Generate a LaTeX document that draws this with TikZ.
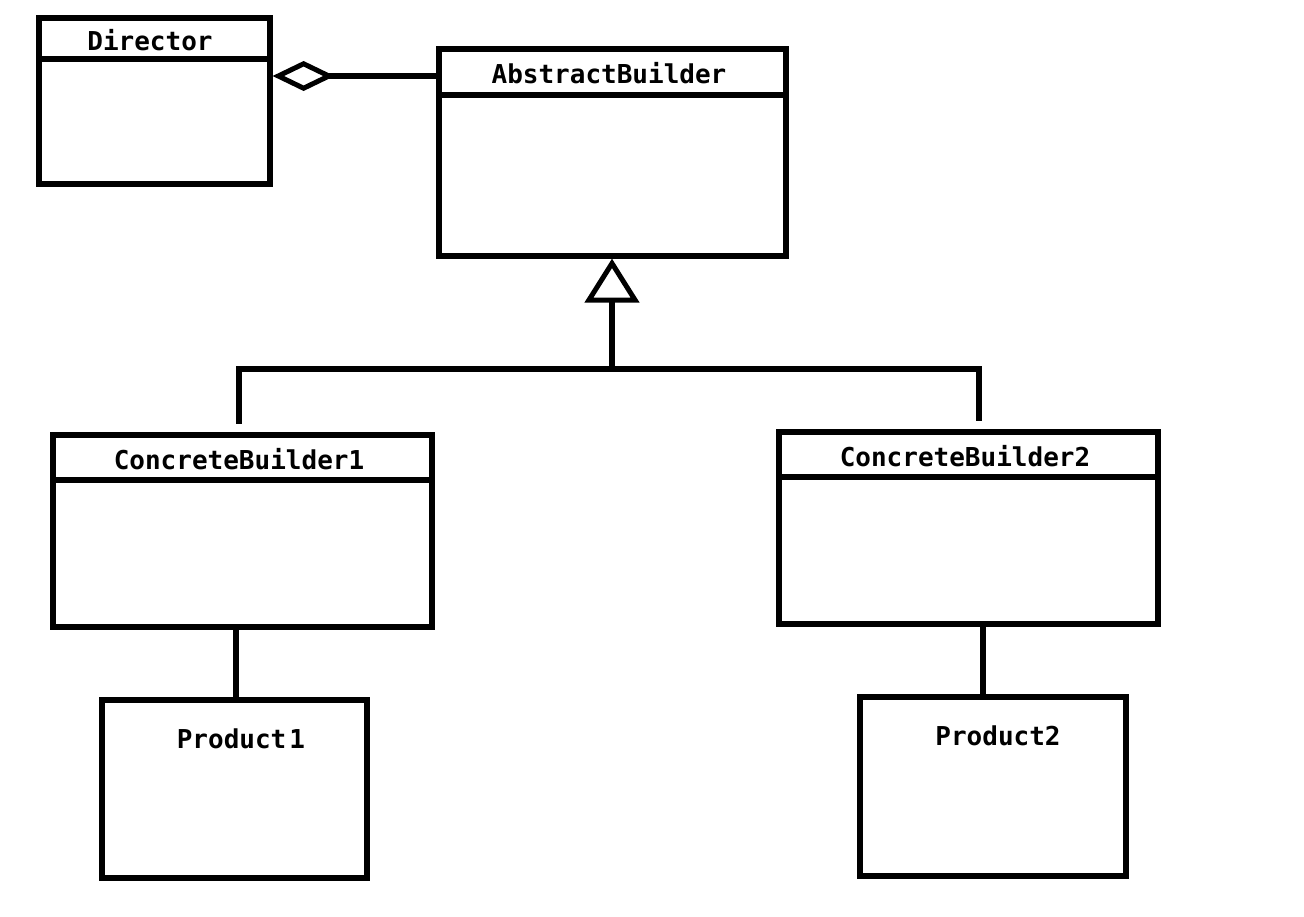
\documentclass[tikz,border=0pt]{standalone}
\usepackage{fontspec}
\setmonofont{DejaVu Sans Mono}
\usetikzlibrary{arrows.meta}
\begin{document}
\begin{tikzpicture}[x=1pt,y=-1pt,
  line width=5.2pt, line join=miter,
  box/.style={draw, rectangle, inner sep=0pt, line width=5.2pt},
  label/.style={font=\fontsize{26}{30}\selectfont\ttfamily\bfseries, inner sep=0pt, anchor=center},
  agg/.style={{Diamond[open,length=62pt,width=30pt,line width=5pt]}-},
  gen/.style={-{Triangle[open,length=44pt,width=54pt,line width=5pt]}},
]
\fill[white] (0,0) rectangle (1304,916);
\useasboundingbox (0,0) rectangle (1304,916);

% classes
\node[box, minimum width=231pt, minimum height=166pt] (dir) at (154.5,101) {};
\node[box, minimum width=347pt, minimum height=207pt] (ab) at (612.5,152.5) {};
\node[box, minimum width=379pt, minimum height=192pt] (cb1) at (242.5,531) {};
\node[box, minimum width=379pt, minimum height=192pt] (cb2) at (968.5,528) {};
\node[box, minimum width=265pt, minimum height=178pt] (p1) at (234.5,789) {};
\node[box, minimum width=266pt, minimum height=179pt] (p2) at (993,786.5) {};

% name compartments
\draw (dir.west |- 0,59) -- (dir.east |- 0,59);
\draw (ab.west |- 0,95) -- (ab.east |- 0,95);
\draw (cb1.west |- 0,480) -- (cb1.east |- 0,480);
\draw (cb2.west |- 0,477) -- (cb2.east |- 0,477);

% names
\node[label] (dirname) at (150,40) {Director};
\node[label] (abname) at (609,73) {AbstractBuilder};
\node[label] (cb1name) at (239,459) {ConcreteBuilder1};
\node[label] (cb2name) at (965,456) {ConcreteBuilder2};
\node[label] (p1name) at (241,739) {Product\hspace{0.12em}1};
\node[label] (p2name) at (998,736) {Product2};

% aggregation
\draw[agg] (dir.east |- 0,76) -- (ab.west |- 0,76);

% generalization
\coordinate (jn) at (612,369);
\draw[gen] (jn) -- (ab.south -| jn);
\draw[shorten >=8pt] (jn) -| ([xshift=-3.5pt]cb1.north);
\draw[shorten >=8pt] (jn) -| ([xshift=10.5pt]cb2.north);

% products
\draw (cb1.south -| 236,0) -- (p1.north -| 236,0);
\draw (cb2.south -| 983,0) -- (p2.north -| 983,0);
\end{tikzpicture}
\end{document}
